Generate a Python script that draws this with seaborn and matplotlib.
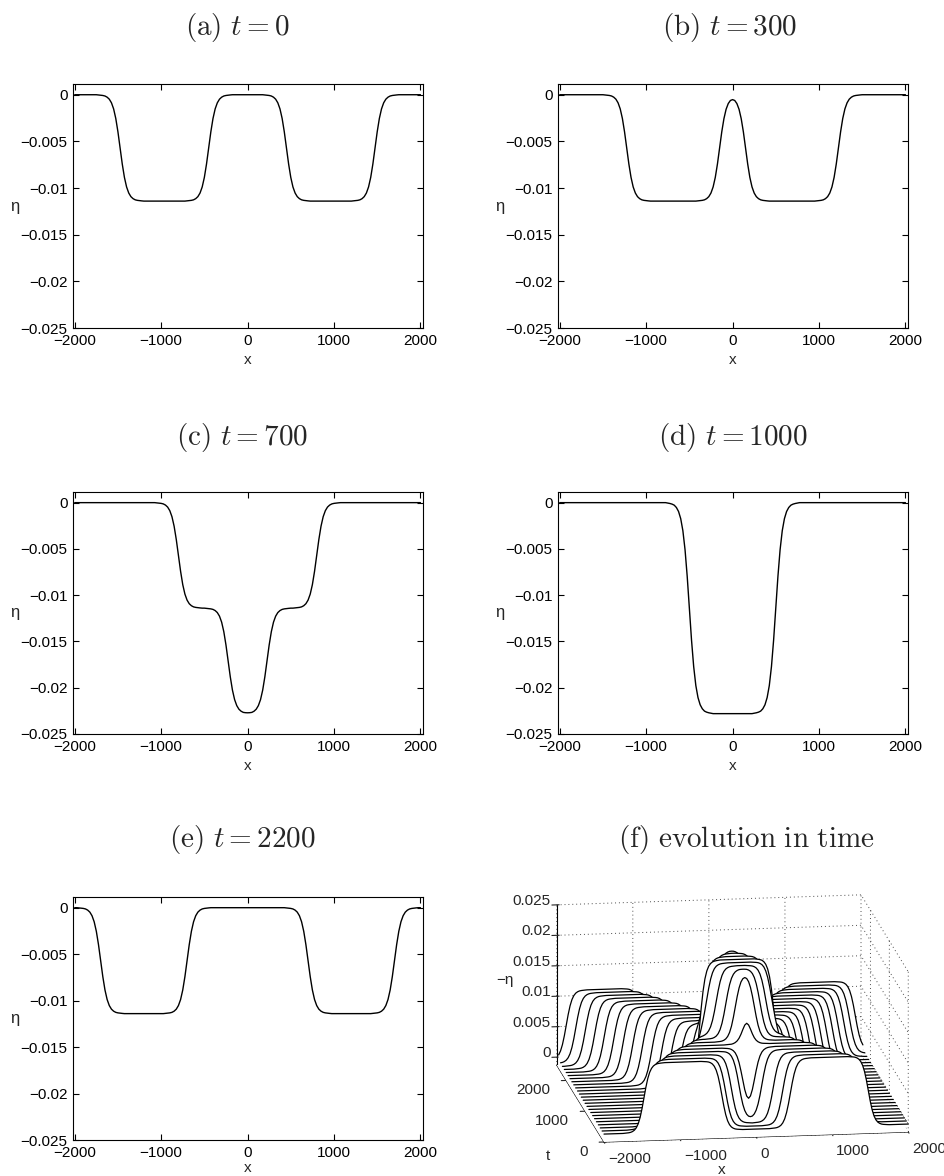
import numpy as np
import matplotlib
matplotlib.use("Agg")
import matplotlib.pyplot as plt
import seaborn as sns
from mpl_toolkits.mplot3d import proj3d
from mpl_toolkits.mplot3d.art3d import Poly3DCollection

# ---------------------------------------------------------------- data
X_STEP = 25
X_START, X_END = -2000, 2000
# shape of one front (fraction of the plateau depth), at 25-unit offsets
# from -250 to +250 around the half-depth point
FRONT_SHAPE = [0.002, 0.004, 0.007, 0.012, 0.023, 0.042, 0.076, 0.133, 0.223, 0.349,
               0.5, 0.651, 0.777, 0.867, 0.924, 0.958, 0.977, 0.988, 0.993, 0.996, 0.998]
PLATEAU_DEPTH = 0.0114

PANEL_LETTERS = ["a", "b", "c", "d", "e"]
PANEL_TIMES = [0, 300, 700, 1000, 2200]
# half-depth edges (left, right) of the two depressions in each panel
PANEL_DEPRESSIONS = [
    [(-1475, -450), (450, 1475)],
    [(-1225, -150), (150, 1225)],
    [(-800, 225), (-225, 800)],
    [(-500, 500), (-500, 500)],
    [(-1700, -700), (700, 1700)],
]

# waterfall (f): edges of the right-moving depression; the other one is its mirror
WATERFALL_TIMES = [0, 100, 200, 300, 400, 500, 600, 700, 800, 900, 1000, 1100, 1200,
                   1300, 1400, 1500, 1600, 1700, 1800, 1900, 2000, 2100, 2200, 2300, 2400]
WATERFALL_LEFT_EDGE = [-1475, -1400, -1300, -1225, -1125, -1025, -900, -800, -700, -600,
                       -500, -400, -300, -200, -100, 0, 100, 200, 300, 400, 500, 600,
                       700, 800, 900]
WATERFALL_RIGHT_EDGE = [-450, -375, -275, -150, -75, 25, 125, 225, 325, 425, 500, 600,
                        700, 800, 900, 1000, 1100, 1200, 1300, 1400, 1500, 1600, 1700,
                        1800, 1900]

X_TICKS = [-2000, -1000, 0, 1000, 2000]
X_TICK_LABELS = ["\u22122000", "\u22121000", "0", "1000", "2000"]
ETA_TICKS = [0, -0.005, -0.01, -0.015, -0.02, -0.025]
ETA_TICK_LABELS = ["0", "\u22120.005", "\u22120.01", "\u22120.015", "\u22120.02", "\u22120.025"]
T_TICKS = [0, 1000, 2000]
T_TICK_LABELS = ["0", "1000", "2000"]
Z_TICKS = [0, 0.005, 0.01, 0.015, 0.02, 0.025]
Z_TICK_LABELS = ["0", "0.005", "0.01", "0.015", "0.02", "0.025"]

# ---------------------------------------------------------------- helpers
x_grid = np.arange(X_START, X_END + X_STEP, X_STEP)
front = np.asarray(FRONT_SHAPE)
half = len(front) // 2


def front_fraction(dist):
    k = np.rint(dist / X_STEP).astype(int) + half
    out = np.where(k < 0, 0.0, 1.0)
    ok = (k >= 0) & (k < len(front))
    out[ok] = front[k[ok]]
    return out


def depression(a, b):
    return PLATEAU_DEPTH * np.minimum(front_fraction(x_grid - a), front_fraction(b - x_grid))


def surface(deps):
    return -sum(depression(a, b) for a, b in deps)


# ---------------------------------------------------------------- style
sns.set_style("ticks")
plt.rcParams["font.family"] = ["Liberation Sans", "DejaVu Sans"]
plt.rcParams["mathtext.fontset"] = "cm"
plt.rcParams["axes.linewidth"] = 0.8

W, H = 944, 1176
fig = plt.figure(figsize=(W / 100, H / 100), dpi=100)
fig.patch.set_facecolor("white")

TICK_FS = 11
TITLE_FS = 21


def rect(left, top, right, bottom):
    return [left / W, 1 - bottom / H, (right - left) / W, (bottom - top) / H]


panel_box = [(73, 84, 423, 328), (558, 84, 908, 328),
             (73, 492, 423, 734), (558, 492, 908, 734),
             (73, 897, 423, 1140)]
xlabel_gap = [32, 32, 32, 32, 28]
title_pos = [(237, 28), (730, 28), (242, 437), (733, 437), (242, 840), (746, 840)]

for i, (letter, t, deps) in enumerate(zip(PANEL_LETTERS, PANEL_TIMES, PANEL_DEPRESSIONS)):
    l, tp, r, b = panel_box[i]
    ax = fig.add_axes(rect(l, tp, r, b))
    eta = surface(deps)
    sns.lineplot(x=x_grid, y=eta, ax=ax, color="black", linewidth=1.0)
    ax.set_xlim(-2020, 2030)
    ax.set_ylim(-0.025, 0.00115)
    ax.set_xticks(X_TICKS)
    ax.set_xticklabels(X_TICK_LABELS)
    ax.set_yticks(ETA_TICKS)
    ax.set_yticklabels(ETA_TICK_LABELS)
    ax.tick_params(direction="in", top=True, right=True, length=4, width=0.8,
                   labelsize=TICK_FS, pad=4, colors="black")
    ax.set_xlabel("")
    ax.set_ylabel("")
    # axis labels placed at the reference offsets
    ax.text(0.5, -xlabel_gap[i] / (b - tp), "x", transform=ax.transAxes, ha="center",
            va="center", fontsize=TICK_FS)
    ax.text(-58 / (r - l), 0.5, "\u03b7", transform=ax.transAxes, ha="center", va="center",
            fontsize=12)
    for s in ax.spines.values():
        s.set_visible(True)
        s.set_color("black")
    tx, ty = title_pos[i]
    fig.text(tx / W, 1 - ty / H, r"$\mathrm{(%s)}\ t = %d$" % (letter, t),
             ha="center", va="center", fontsize=TITLE_FS)

tx, ty = title_pos[5]
fig.text(tx / W, 1 - ty / H, r"$\mathrm{(f)\ evolution\ in\ time}$",
         ha="center", va="center", fontsize=TITLE_FS)

# ---------------------------------------------------------------- waterfall
ZMIN, ZMAX = -0.0013, 0.025
TMAX = 2500
ax3 = fig.add_axes([0.55, 0.0, 0.42, 0.42 * W / H], projection="3d", computed_zorder=False)
ax3.set_proj_type("ortho")
ax3.view_init(elev=13.4, azim=-98.1)
ax3.set_box_aspect((307, 335, 164.5))
for axis in (ax3.xaxis, ax3.yaxis, ax3.zaxis):
    axis.set_pane_color((1, 1, 1, 0))
    axis._axinfo["grid"].update(color="0.3", linewidth=0.7, linestyle=(0, (1, 3)))
    axis.line.set_color("black")
    axis.line.set_linewidth(0.8)
ax3.grid(True)
ax3.set_xticks(X_TICKS)
ax3.set_xticklabels([""] * len(X_TICKS))
ax3.set_yticks(T_TICKS)
ax3.set_yticklabels([""] * len(T_TICKS))
ax3.set_zticks(Z_TICKS)
ax3.set_zticklabels([""] * len(Z_TICKS))
ax3.set_xlabel("")
ax3.set_ylabel("")
ax3.set_zlabel("")

# white floor hiding the floor grid
floor = Poly3DCollection([[(X_START, 0, ZMIN), (X_END, 0, ZMIN), (X_END, TMAX, ZMIN),
                           (X_START, TMAX, ZMIN)]], facecolor="white", edgecolor="none",
                         zorder=1)
ax3.add_collection3d(floor)

n = len(WATERFALL_TIMES)
for j, k in enumerate(range(n - 1, -1, -1)):  # back to front
    t = WATERFALL_TIMES[k]
    a, b = WATERFALL_LEFT_EDGE[k], WATERFALL_RIGHT_EDGE[k]
    z = -surface([(a, b), (-b, -a)])
    tt = np.full_like(x_grid, t, dtype=float)
    base = -0.0003
    verts = [list(zip(x_grid, tt, z)) + [(X_END, t, base), (X_START, t, base)]]
    poly = Poly3DCollection(verts, facecolor="white", edgecolor="none", zorder=10 + 2 * j)
    ax3.add_collection3d(poly)
    ax3.plot(x_grid, tt, z, color="black", linewidth=0.9, zorder=11 + 2 * j)

ax3.set_xlim(X_START, X_END)
ax3.set_ylim(0, TMAX)
ax3.set_zlim(ZMIN, ZMAX)

# fit the projected box onto the reference position
targets = np.array([[604, H - 1142], [908, H - 1132], [555, H - 905]], dtype=float)
corners = [(X_START, 0, ZMIN), (X_END, 0, ZMIN), (X_START, TMAX, ZMAX)]


def to_px(pts3):
    M = ax3.get_proj()
    out = []
    for (cx, cy, cz) in pts3:
        xs, ys, _ = proj3d.proj_transform(np.array([cx], float), np.array([cy], float),
                                          np.array([cz], float), M)
        out.append(ax3.transData.transform((xs[0], ys[0])))
    return np.array(out)


for _ in range(2):
    fig.canvas.draw()
    P = to_px(corners)
    s = np.mean([np.linalg.norm(targets[1] - targets[0]) / np.linalg.norm(P[1] - P[0]),
                 np.linalg.norm(targets[2] - targets[0]) / np.linalg.norm(P[2] - P[0])])
    pos = ax3.get_position()
    C = np.array([(pos.x0 + pos.x1) / 2 * W, (pos.y0 + pos.y1) / 2 * H])
    shift = targets[0] - (C + s * (P[0] - C))
    C2 = C + shift
    wpx, hpx = pos.width * W * s, pos.height * H * s
    ax3.set_position([(C2[0] - wpx / 2) / W, (C2[1] - hpx / 2) / H, wpx / W, hpx / H])

fig.canvas.draw()


def px_text(px, py, s, **kw):
    fig.text(px / W, py / H, s, fontsize=TICK_FS, **kw)


# tick labels of the waterfall, offset from the projected tick positions
for xv, lab in zip(X_TICKS, X_TICK_LABELS):
    p = to_px([(xv, 0, ZMIN)])[0]
    px_text(p[0] + 4, p[1] - 17, lab, ha="left", va="center")
for tv, lab in zip(T_TICKS, T_TICK_LABELS):
    p = to_px([(X_START, tv, ZMIN)])[0]
    px_text(p[0] - 16, p[1] - 10, lab, ha="right", va="center")
for zv, lab in zip(Z_TICKS, Z_TICK_LABELS):
    p = to_px([(X_START, TMAX, zv)])[0]
    px_text(p[0] - 6, p[1] + 4, lab, ha="right", va="center")

px_text(722, H - 1170, "x", ha="center", va="center")
px_text(548, H - 1156, "t", ha="center", va="center")
px_text(505, H - 980, "\u2212\u03b7", ha="center", va="center")

fig.savefig("out.png", dpi=100, facecolor="white")
